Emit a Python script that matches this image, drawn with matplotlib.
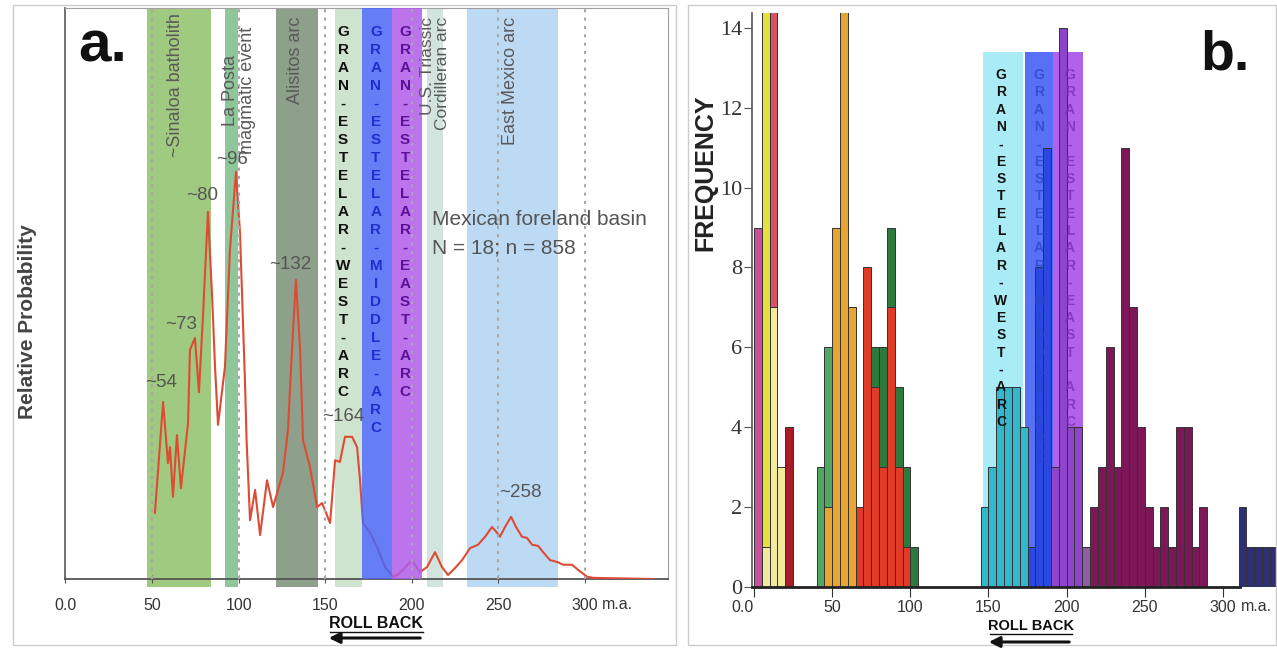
import matplotlib.pyplot as plt
from matplotlib.patches import Rectangle, FancyArrowPatch

plt.rcParams['font.family'] = ['Liberation Sans', 'DejaVu Sans']
SERIF = ['Liberation Serif', 'DejaVu Serif']

W, H = 1277, 648

# ---------------- panel a : relative probability (Mexican foreland basin)
age_a = [51.7, 56.4, 59.2, 60.4, 62.1, 64.4, 66.7, 70.8, 71.9, 74.8, 77.1, 79.4,
         82.3, 84.6, 86.4, 88.1, 92.1, 95.0, 98.5, 100.8, 103.7, 104.6, 106.6,
         109.5, 112.4, 116.4, 119.9, 125.6, 128.5, 130.8, 133.1, 135.5, 137.2,
         141.2, 145.3, 148.2, 152.8, 155.7, 158.5, 161.4, 165.5, 168.4, 170.1,
         171.8, 175.9, 179.9, 184.5, 189.1, 191.5, 194.9, 200.1, 204.7, 208.8,
         213.4, 217.4, 220.9, 224.9, 229.0, 233.6, 238.2, 242.3, 246.3, 249.2,
         250.9, 253.8, 257.3, 260.2, 263.6, 266.5, 269.4, 272.9, 275.8, 279.8,
         283.8, 287.3, 292.5, 296.0, 301.2, 304.6, 339.3]
prob_a = [0.116, 0.310, 0.203, 0.231, 0.144, 0.252, 0.159, 0.273, 0.401, 0.422,
          0.327, 0.459, 0.643, 0.501, 0.371, 0.270, 0.371, 0.576, 0.713, 0.606,
          0.343, 0.243, 0.103, 0.156, 0.077, 0.173, 0.126, 0.186, 0.261, 0.401,
          0.524, 0.401, 0.243, 0.196, 0.126, 0.133, 0.098, 0.208, 0.205, 0.249,
          0.249, 0.231, 0.173, 0.098, 0.081, 0.056, 0.021, 0.004, 0.007, 0.016,
          0.033, 0.012, 0.021, 0.047, 0.021, 0.007, 0.019, 0.033, 0.054, 0.060,
          0.074, 0.091, 0.081, 0.074, 0.091, 0.109, 0.091, 0.074, 0.072, 0.060,
          0.058, 0.047, 0.033, 0.030, 0.025, 0.025, 0.016, 0.004, 0.002, 0.000]

peak_text = ['~54', '~73', '~80', '~96', '~132', '~164', '~258']
peak_x = [55.2, 66.7, 78.9, 96.2, 129.7, 160.3, 262.5]
peak_y = [0.345, 0.445, 0.672, 0.734, 0.550, 0.284, 0.151]

band_lo_a = [47.0, 92.0, 121.5, 155.5, 171.0, 188.6, 208.6, 232.0]
band_hi_a = [84.0, 99.6, 145.7, 171.0, 188.6, 205.7, 218.0, 284.4]
band_col_a = ['#a0ca7f', '#8fc79b', '#8e9f8b', '#cfe4cf',
              '#4a68f4', '#b05ce9', '#d3e4de', '#bddaf5']
band_bot_a = [-0.014, -0.014, -0.014, -0.014, 0.0, 0.0, -0.014, -0.014]
band_front_a = [False, False, False, False, True, True, False, False]

dotted_ages = [50, 100, 150, 200, 250, 300]
age_ticks = [0, 50, 100, 150, 200, 250, 300]
age_labels = ['0.0', '50', '100', '150', '200', '250', '300']

arc_words = ['GRAN-ESTELAR-WEST-ARC', 'GRAN-ESTELAR-MIDDLE-ARC', 'GRAN-ESTELAR-EAST-ARC']

# ---------------- panel b : frequency histogram (stacked samples, 5 m.a. bins)
pale_bins, pale_n = [5, 10, 15], [1, 7, 3]
pink_bins, pink_n = [0], [9]
yellow_bins, yellow_n = [5], [14]
rose_bins, rose_n = [10], [8]
dkred_bins, dkred_n = [20], [4]
orange_bins, orange_n = [45, 50, 55, 60], [2, 9, 15, 7]
green_bins, green_n = [40, 45], [3, 4]
red_bins, red_n = [65, 70, 75, 80, 85, 90, 95], [2, 8, 5, 3, 7, 3, 1]
dkgreen_bins, dkgreen_n = [75, 80, 85, 90, 95, 100], [1, 3, 2, 2, 2, 1]
cyan_bins, cyan_n = [145, 150, 155, 160, 165, 170], [2, 3, 5, 5, 5, 4]
blue_bins, blue_n = [175, 180, 185], [1, 8, 11]
purple_bins, purple_n = [190, 195, 200, 205], [3, 14, 4, 4]
grape_bins, grape_n = [210], [1]
maroon_bins = [215, 220, 225, 230, 235, 240, 245, 250, 255, 260, 265, 270, 275, 280, 285]
maroon_n = [2, 3, 6, 3, 11, 7, 4, 2, 1, 2, 1, 4, 4, 1, 2]
navy_bins, navy_n = [310, 315, 320, 325, 330], [2, 1, 1, 1, 1]

series_b = [
    (pale_bins, pale_n, '#f2ea9c'), (pink_bins, pink_n, '#c8509c'),
    (yellow_bins, yellow_n, '#e6df3c'), (rose_bins, rose_n, '#d65468'),
    (dkred_bins, dkred_n, '#a81c28'), (orange_bins, orange_n, '#e9a532'),
    (green_bins, green_n, '#52a863'), (red_bins, red_n, '#df3b27'),
    (dkgreen_bins, dkgreen_n, '#2d7a3c'), (cyan_bins, cyan_n, '#33b7cc'),
    (blue_bins, blue_n, '#2a48e0'), (purple_bins, purple_n, '#8f44cc'),
    (grape_bins, grape_n, '#8e5e9e'), (maroon_bins, maroon_n, '#7d1758'),
    (navy_bins, navy_n, '#2e2f75'),
]

band_lo_b = [146.5, 173.4, 191.4]
band_hi_b = [172.0, 191.4, 210.5]
band_col_b = ['#a9ecf6', '#5870f5', '#b062ea']
band_top_b = 13.4
freq_ticks = [0, 2, 4, 6, 8, 10, 12, 14]


def box(l, t, r, b):
    return [l / W, 1 - b / H, (r - l) / W, (b - t) / H]


fig = plt.figure(figsize=(W / 100, H / 100), dpi=100)
fig.patch.set_facecolor('white')

# panel frames
fig.add_artist(Rectangle((13 / W, 1 - 645 / H), 663 / W, 640 / H, transform=fig.transFigure,
                         fill=False, ec='#cccccc', lw=1))
fig.add_artist(Rectangle((688 / W, 1 - 645 / H), 588 / W, 640 / H, transform=fig.transFigure,
                         fill=False, ec='#cccccc', lw=1))

# ================= panel a
axa = fig.add_axes(box(65.4, 8, 668, 579))
axa.set_xlim(0, 347.9)
axa.set_ylim(0, 1)
axa.set_facecolor('none')
for lo, hi, col, bot, front in zip(band_lo_a, band_hi_a, band_col_a, band_bot_a, band_front_a):
    axa.add_patch(Rectangle((lo, bot), hi - lo, 1 - bot, fc=col, ec='none',
                            alpha=0.85 if front else 1, zorder=4 if front else 1,
                            clip_on=False))
axa.plot(age_a, prob_a, color='#dd4b34', lw=1.5, zorder=3)
axa.vlines(dotted_ages, 0, 1, colors='#a8a8a8', linestyles=(0, (1.5, 2.5)), lw=1.5, zorder=5)

for s, x, y in zip(peak_text, peak_x, peak_y):
    axa.text(x, y, s, ha='center', va='center', fontsize=13.5, color='#555555', zorder=6)

lab_kw = dict(rotation=90, fontsize=13, color='#5a5a5a', zorder=6)
axa.text(63.3, 0.991, '~Sinaloa batholith', ha='center', va='top', **lab_kw)
axa.text(100.5, 0.856, 'La Posta\nmagmatic event', ha='center', va='center',
         multialignment='center', linespacing=1.0, **lab_kw)
axa.text(132.6, 0.985, 'Alisitos arc', ha='center', va='top', **lab_kw)
axa.text(213.4, 0.985, 'U.S. Triassic\nCordilleran arc', ha='center', va='top',
         multialignment='right', linespacing=1.0, rotation=90, fontsize=12.5,
         color='#5a5a5a', zorder=6)
axa.text(256.7, 0.985, 'East Mexico arc', ha='center', va='top', **lab_kw)
axa.text(211.7, 0.630, 'Mexican foreland basin', ha='left', va='center', fontsize=15,
         color='#555555', zorder=6)
axa.text(211.7, 0.580, 'N = 18; n = 858', ha='left', va='center', fontsize=15,
         color='#555555', zorder=6)

for word, x, col in zip(arc_words, [160.3, 179.3, 196.1], ['#111111', '#1f2fd0', '#5b1196']):
    for i, ch in enumerate(word):
        axa.text(x, 0.958 - i * 0.0315, ch, ha='center', va='center', fontsize=11,
                 fontweight='bold', color=col, zorder=7)

for side in ('top', 'right'):
    axa.spines[side].set_color('#a0a0a0')
axa.spines['left'].set_color('#666666')
axa.spines['left'].set_linewidth(1.3)
axa.spines['bottom'].set_color('#555555')
axa.spines['bottom'].set_linewidth(1.3)
axa.set_yticks([])
axa.set_xticks(age_ticks)
axa.set_xticklabels(age_labels)
axa.tick_params(axis='x', direction='inout', length=6, color='#555555', pad=11,
                labelsize=11.5, labelcolor='#333333')
axa.text(309.5, -0.0438, 'm.a.', ha='left', va='center', fontsize=11.5, color='#333333',
         clip_on=False)

fig.text(28 / W, 1 - 322 / H, 'Relative Probability', rotation=90, ha='center', va='center',
         fontsize=15, fontweight='bold', color='#444444')
fig.text(78 / W, 1 - 62 / H, 'a.', ha='left', va='baseline', fontsize=42,
         fontweight='bold', color='#111111')

# ================= panel b
axb = fig.add_axes(box(751.7, 13, 1277, 587))
axb.set_xlim(-1.5, 334.6)
axb.set_ylim(0, 14.37)
axb.set_facecolor('none')
for lo, hi, col in zip(band_lo_b, band_hi_b, band_col_b):
    axb.add_patch(Rectangle((lo, 0), hi - lo, band_top_b, fc=col, ec='none', zorder=1))

bottoms = {}
for bins, counts, col in series_b:
    base = [bottoms.get(b, 0) for b in bins]
    axb.bar(bins, counts, width=5, bottom=base, align='edge', color=col,
            edgecolor='#333333', linewidth=0.7, zorder=2)
    for b, n, b0 in zip(bins, counts, base):
        bottoms[b] = b0 + n

for word, x, col, al in zip(arc_words, [158.0, 182.3, 202.2],
                            ['#111111', '#2a45c8', '#7a2ab0'], [1, 0.75, 0.75]):
    for i, ch in enumerate(word):
        axb.text(x, 12.82 - i * 0.4345, ch, ha='center', va='center', fontsize=10,
                 fontweight='bold', color=col, alpha=al, zorder=3)

for side in ('top', 'right'):
    axb.spines[side].set_visible(False)
axb.spines['left'].set_color('#555555')
axb.spines['left'].set_linewidth(1.2)
axb.spines['bottom'].set_bounds(-1.5, 311)
axb.spines['bottom'].set_color('#222222')
axb.spines['bottom'].set_linewidth(2)
axb.set_yticks(freq_ticks)
axb.tick_params(axis='y', direction='out', length=6, color='#555555', pad=1,
                labelsize=16, labelcolor='#333333')
for lab in axb.get_yticklabels():
    lab.set_fontfamily(SERIF)
axb.set_xticks(age_ticks)
axb.set_xticklabels(age_labels)
axb.tick_params(axis='x', direction='out', length=7, color='#333333', pad=2,
                labelsize=11.5, labelcolor='#333333')
axb.get_xticklabels()[0].set_horizontalalignment('right')
axb.text(311.5, -0.50, 'm.a.', ha='left', va='center', fontsize=11.5, color='#333333',
         clip_on=False)

fig.text(705 / W, 1 - 173 / H, 'FREQUENCY', rotation=90, ha='center', va='center',
         fontsize=18, fontweight='bold', color='#222222')
fig.text(1200 / W, 1 - 70 / H, 'b.', ha='left', va='baseline', fontsize=40,
         fontweight='bold', color='#111111')

# roll back arrows
for cx, ty, x0, x1, ay, fs in [(376, 624, 330, 423, 638, 11.5), (1031, 626, 990, 1072, 642, 10.5)]:
    fig.text(cx / W, 1 - ty / H, 'ROLL BACK', ha='center', va='center', fontsize=fs,
             fontweight='bold', color='#111111')
    fig.add_artist(plt.Line2D([x0 / W, x1 / W], [1 - (ty + 8) / H] * 2,
                              transform=fig.transFigure, color='#111111', lw=1))
    fig.add_artist(FancyArrowPatch((x1 / W, 1 - ay / H), ((x0 - 4) / W, 1 - ay / H),
                                   transform=fig.transFigure, arrowstyle='-|>',
                                   mutation_scale=16, lw=2.2, color='#111111'))

fig.savefig('out.png', dpi=100)
